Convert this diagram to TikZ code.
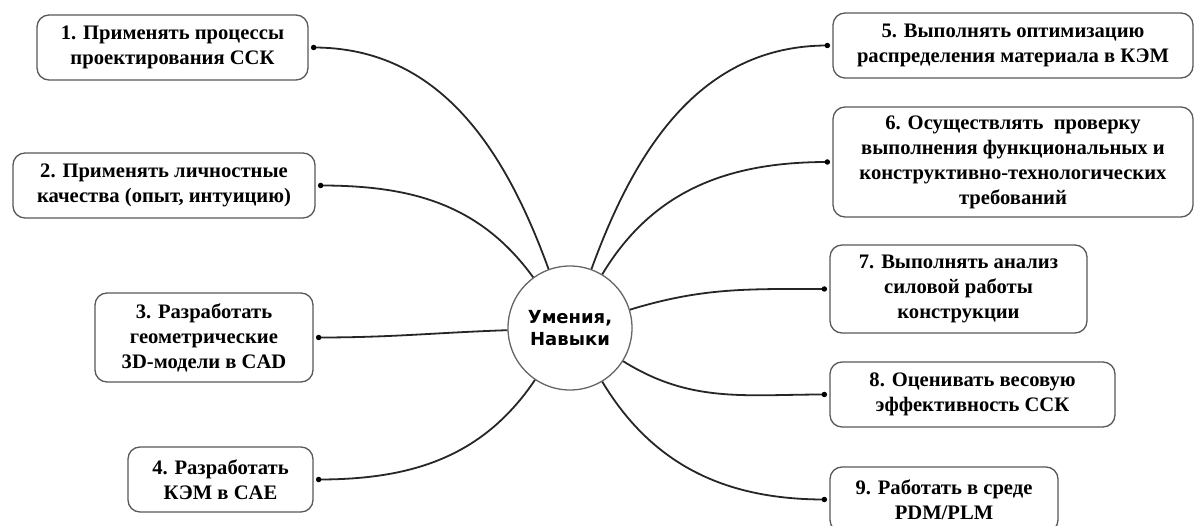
\documentclass[tikz,border=0pt]{standalone}
\usepackage{fontspec}
\setmainfont{Liberation Serif}
\newfontfamily\hubfont{DejaVu Sans}
\begin{document}
\begin{tikzpicture}[x=1pt,y=-1pt,
  box/.style={draw=black!65, line width=1.3pt, rounded corners=12pt, fill=white,
    align=center, inner sep=0pt, font=\fontsize{20.6}{25}\selectfont\bfseries},
  hubstyle/.style={circle, draw=black!60, line width=1.3pt, minimum size=124pt, inner sep=0pt,
    align=center, font=\hubfont\fontsize{18}{22}\selectfont\bfseries},
  link/.style={line width=1.8pt, draw=black!85},
  dotmark/.style={circle, fill=black, inner sep=0pt, minimum size=5.5pt}
]
\clip (0,0) rectangle (1194,526);
\fill[white] (0,0) rectangle (1194,526);

\node[hubstyle] (hub) at (570,328) {Умения,\\Навыки};

\node[box, minimum width=271pt, minimum height=65pt] (b1) at (172.5,47.5) {1. Применять процессы\\проектирования ССК};
\node[box, minimum width=302pt, minimum height=65pt] (b2) at (164,185.5) {2. Применять личностные\\качества (опыт, интуицию)};
\node[box, minimum width=218pt, minimum height=89pt] (b3) at (204,337.5) {3. Разработать\\геометрические\\3D-модели в CAD};
\node[box, minimum width=185pt, minimum height=65pt] (b4) at (220.5,479.5) {4. Разработать\\КЭМ в CAE};

\node[box, minimum width=360pt, minimum height=65pt] (b5) at (1013,45.5) {5. Выполнять оптимизацию\\распределения материала в КЭМ};
\node[box, minimum width=360pt, minimum height=110pt] (b6) at (1013,162) {6. Осуществлять\ \ проверку\\выполнения функциональных и\\конструктивно-технологических\\требований};
\node[box, minimum width=257pt, minimum height=88pt] (b7) at (958.5,289) {7. Выполнять анализ\\силовой работы\\конструкции};
\node[box, minimum width=285pt, minimum height=65pt] (b8) at (972.5,394.5) {8. Оценивать весовую\\эффективность ССК};
\node[box, minimum width=228pt, minimum height=65pt] (b9) at (944,499.5) {9. Работать в среде\\PDM/PLM};

\coordinate (p1) at ([xshift=5pt]b1.east);
\coordinate (p2) at ([xshift=5pt]b2.east);
\coordinate (p3) at ([xshift=5pt]b3.east);
\coordinate (p4) at ([xshift=5pt]b4.east);
\coordinate (p5) at ([xshift=-5pt]b5.west);
\coordinate (p6) at ([xshift=-5pt]b6.west);
\coordinate (p7) at ([xshift=-5pt]b7.west);
\coordinate (p8) at ([xshift=-5pt]b8.west);
\coordinate (p9) at ([xshift=-5pt]b9.west);

\draw[link] (p1) to[out=0, in=110] (hub.110);
\draw[link] (p2) to[out=0, in=126] (hub.126);
\draw[link] (p3) to[out=0, in=182] (hub.182);
\draw[link] (p4) to[out=0, in=236] (hub.236);
\draw[link] (p5) to[out=180, in=70] (hub.70);
\draw[link] (p6) to[out=180, in=59] (hub.59);
\draw[link] (p7) to[out=180, in=17] (hub.17);
\draw[link] (p8) to[out=180, in=-32] (hub.-32);
\draw[link] (p9) to[out=180, in=-59] (hub.-59);

\foreach \i in {1,...,9} \node[dotmark] at (p\i) {};
\end{tikzpicture}
\end{document}
